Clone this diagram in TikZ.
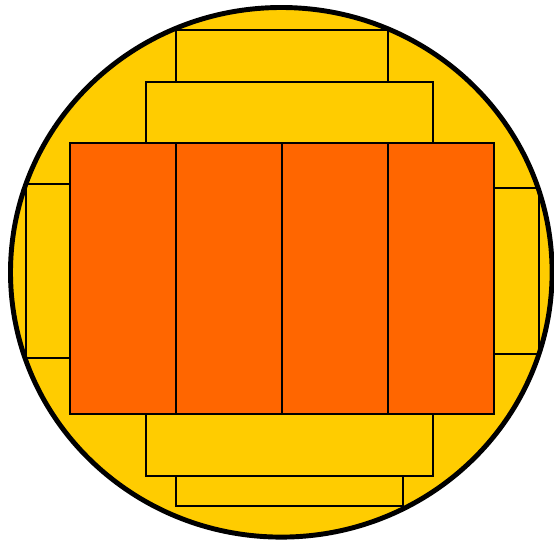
\documentclass[tikz,border=0pt]{standalone}
\usepackage{xcolor}
\usepackage{tikz}
\definecolor{wfYellow}{HTML}{FFCC00}
\definecolor{wfOrange}{HTML}{FF6600}
\tikzset{
  wf diagram/.style={line cap=butt, line join=miter},
  wf disc/.style={draw=black, line width=4.2pt},
  wf slab/.style={draw=black, fill=wfYellow, line width=1.8pt},
  wf die/.style={wf slab, fill=wfOrange}
}

\begin{document}
\begin{tikzpicture}[wf diagram, x=0.03cm, y=-0.03cm]
\useasboundingbox (0,0) rectangle (554,543);
\fill[wfYellow] (281.3,272.3) ellipse [x radius=270.8, y radius=264.8];
% slabs above and below
\draw[wf slab] (176,30) rectangle (388,82);
\draw[wf slab] (146,82) rectangle (433,143);
\draw[wf slab] (146,414) rectangle (433,476);
\draw[wf slab] (176,476) rectangle (403,506);
% side slabs
\draw[wf slab] (26,184) rectangle (70,358);
\draw[wf slab] (494,188) rectangle (539,354);
% the four dies
\foreach \x in {70,176,282,388}
  \draw[wf die] (\x,143) rectangle ++(106,271);
\draw[wf disc] (281.3,272.3) ellipse [x radius=270.8, y radius=264.8];
\end{tikzpicture}
\end{document}
